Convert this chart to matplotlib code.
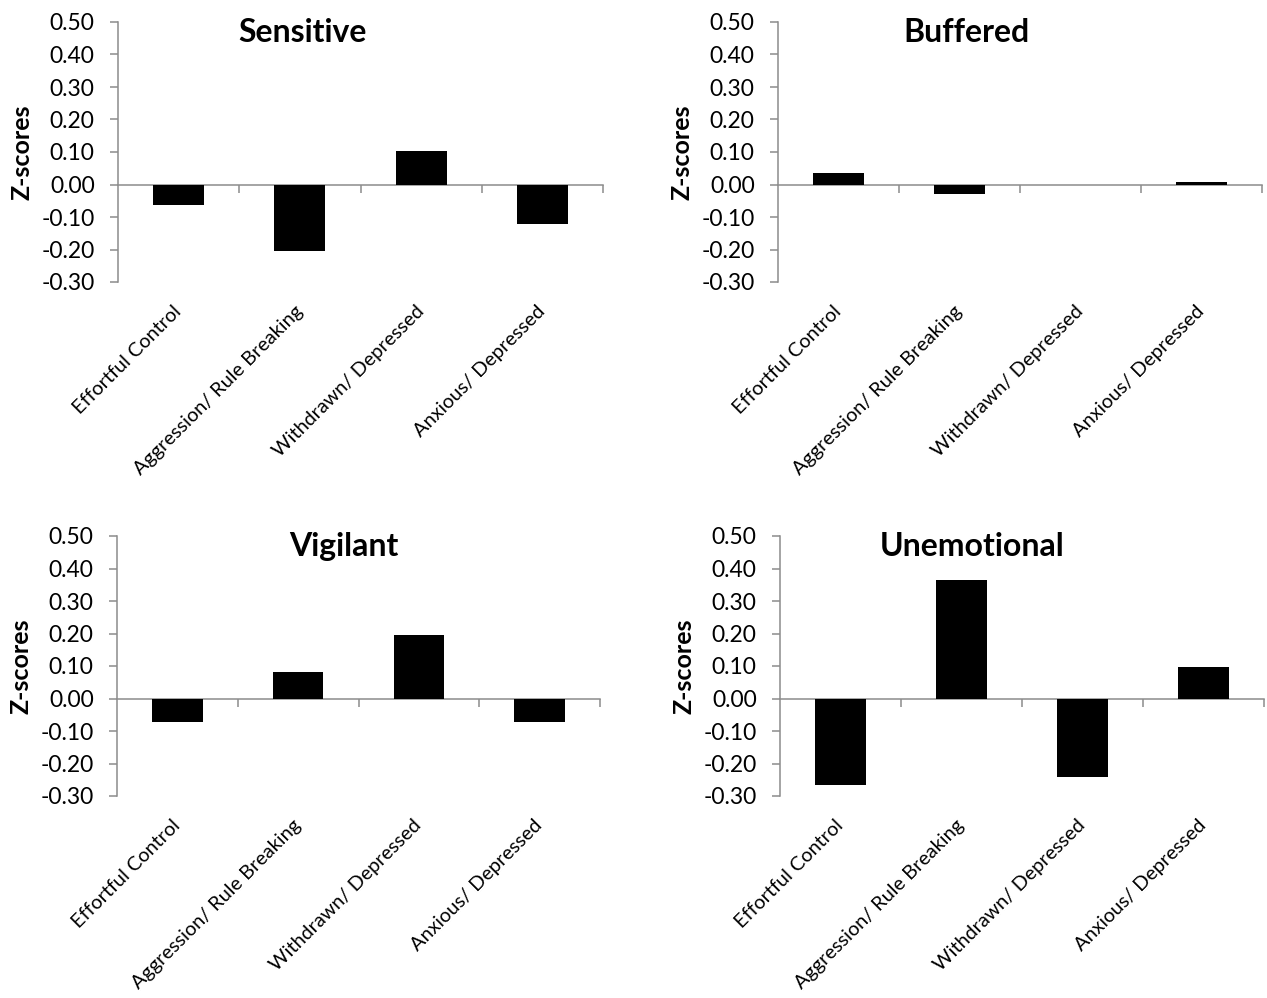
import numpy as np
import matplotlib
matplotlib.use("Agg")
import matplotlib.pyplot as plt

plt.rcParams['font.family'] = ['Lato', 'DejaVu Sans']

# categories shared by every panel
categories = ["Effortful Control", "Aggression/ Rule Breaking",
              "Withdrawn/ Depressed", "Anxious/ Depressed"]

# z-scores
sensitive = [-0.064, -0.205, 0.103, -0.120]
buffered = [0.036, -0.030, 0.0, 0.008]
vigilant = [-0.073, 0.083, 0.195, -0.072]
unemotional = [-0.267, 0.366, -0.242, 0.098]

titles = ["Sensitive", "Buffered", "Vigilant", "Unemotional"]
series = [sensitive, buffered, vigilant, unemotional]
yticks = [-0.30, -0.20, -0.10, 0.00, 0.10, 0.20, 0.30, 0.40, 0.50]

W, H = 1267, 998
fig = plt.figure(figsize=(W / 100, H / 100), dpi=100)

# axes boxes in pixels: left, top, right, bottom
boxes = [(118, 22, 603, 282), (778, 22, 1262, 282),
         (117, 536, 600, 796), (780, 536, 1264, 796)]
title_x = [0.381, 0.39, 0.47, 0.397]

grey = "#8c8c8c"
x = np.arange(1, len(categories) + 1)

for box, title, vals, tx in zip(boxes, titles, series, title_x):
    l, t, r, b = box
    ax = fig.add_axes([l / W, (H - b) / H, (r - l) / W, (b - t) / H])
    ax.bar(x, vals, width=0.42, color="black", linewidth=0, zorder=3)
    ax.set_xlim(0.5, len(categories) + 0.5)
    ax.set_ylim(-0.30, 0.50)
    ax.set_yticks(yticks)
    ax.set_yticklabels([f"{v:.2f}" for v in yticks], fontsize=16.5)
    ax.tick_params(axis="y", direction="out", length=5.8, width=1.1, color=grey, pad=11)

    # category labels under the plot
    ax.set_xticks(x)
    ax.set_xticklabels(categories, rotation=45, ha="right", va="center",
                       rotation_mode="anchor", fontsize=14.3)
    ax.tick_params(axis="x", length=0, pad=19)

    for s in ["top", "right", "bottom"]:
        ax.spines[s].set_visible(False)
    ax.spines["left"].set_color(grey)
    ax.spines["left"].set_linewidth(1.1)

    # zero line with tick marks at category boundaries
    sec = ax.secondary_xaxis(0.375)
    sec.set_xticks(np.arange(1.5, len(categories) + 1, 1.0))
    sec.set_xticklabels([])
    sec.tick_params(direction="out", length=6, width=1.1, color=grey)
    sec.spines["bottom"].set_color(grey)
    sec.spines["bottom"].set_linewidth(1.1)

    ax.text(tx, 0.96, title, transform=ax.transAxes, ha="center", va="center",
            fontsize=23, fontweight="bold")
    ax.set_ylabel("Z-scores", fontsize=18, fontweight="bold")
    ax.yaxis.set_label_coords(-0.175, 0.5)

fig.savefig("out.png", dpi=100)
